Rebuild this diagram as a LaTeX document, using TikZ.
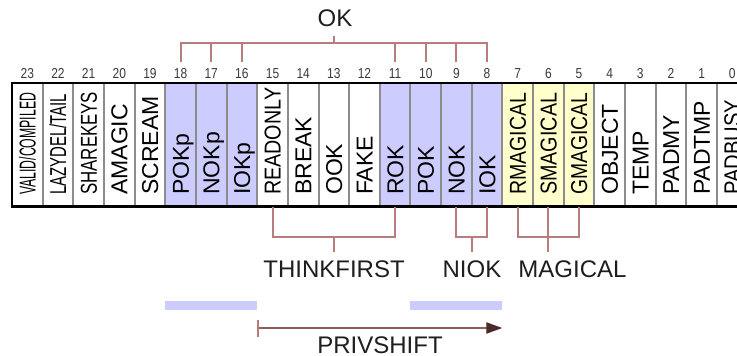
\documentclass[tikz,border=0pt]{standalone}
\usepackage{fontspec}
\setmainfont{Liberation Sans}
\usepackage{graphicx}
\usetikzlibrary{arrows.meta,calc}
\definecolor{bluecell}{HTML}{CCCCFF}
\definecolor{yellowcell}{HTML}{FFFFCC}
\definecolor{brk}{HTML}{B87C7C}
\definecolor{arr}{HTML}{8E5C5C}
\definecolor{arrhead}{HTML}{4A2A2A}
\definecolor{divider}{HTML}{8C8C8C}
\definecolor{txt}{HTML}{1E1E1E}
\definecolor{numgray}{HTML}{3A3A3A}
\newlength\lblw
\newcommand\fitlbl[2]{\settowidth\lblw{#2}\ifdim\lblw>#1pt\relax\resizebox{#1pt}{\height}{#2}\else #2\fi}
\tikzset{
  cellbox/.style={draw=divider,line width=2pt,minimum width=30.65pt,minimum height=124pt,inner sep=0pt,outer sep=0pt},
  celllbl/.style={rotate=90,anchor=base west,inner sep=0pt,text=black,font=\fontsize{23}{23}\selectfont},
  numlbl/.style={anchor=base,inner sep=0pt,text=numgray,font=\fontsize{12}{12}\selectfont},
  grouplbl/.style={anchor=base,inner sep=0pt,text=txt,font=\fontsize{24}{24}\selectfont},
  brkline/.style={draw=brk,line width=2pt},
  bar/.style={fill=bluecell,minimum width=91.95pt,minimum height=9pt,inner sep=0pt,outer sep=0pt},
}
\newcommand\bitcell[5]{%
  \pgfmathsetmacro\cx{12+(#1+0.5)*30.65}%
  \node[cellbox,fill=#3] (c#2) at (\cx,145) {};
  \node[numlbl] (n#2) at (\cx,78) {\scalebox{1}[1.2]{#2}};
  \node[celllbl] (l#2) at (\cx+8.2,195) {\fitlbl{#4}{#5}};
  \coordinate (t#2) at (\cx,62);
  \coordinate (b#2) at (\cx,207);
}
\newcommand\myslash{/}
\begin{document}
\begin{tikzpicture}[x=1pt,y=-1pt]
\useasboundingbox (0,0) rectangle (737,356);
\clip (0,0) rectangle (737,356);
\fill[white] (0,0) rectangle (737,356);
\bitcell{0}{23}{white}{102}{VALID\myslash COMPILED}
\bitcell{1}{22}{white}{101}{LAZYDEL\myslash TAIL}
\bitcell{2}{21}{white}{103}{SHAREKEYS}
\bitcell{3}{20}{white}{200}{AMAGIC}
\bitcell{4}{19}{white}{200}{SCREAM}
\bitcell{5}{18}{bluecell}{200}{POKp}
\bitcell{6}{17}{bluecell}{200}{NOKp}
\bitcell{7}{16}{bluecell}{200}{IOKp}
\bitcell{8}{15}{white}{107}{READONLY}
\bitcell{9}{14}{white}{200}{BREAK}
\bitcell{10}{13}{white}{200}{OOK}
\bitcell{11}{12}{white}{200}{FAKE}
\bitcell{12}{11}{bluecell}{200}{ROK}
\bitcell{13}{10}{bluecell}{200}{POK}
\bitcell{14}{9}{bluecell}{200}{NOK}
\bitcell{15}{8}{bluecell}{200}{IOK}
\bitcell{16}{7}{yellowcell}{102}{RMAGICAL}
\bitcell{17}{6}{yellowcell}{102}{SMAGICAL}
\bitcell{18}{5}{yellowcell}{102}{GMAGICAL}
\bitcell{19}{4}{white}{200}{OBJECT}
\bitcell{20}{3}{white}{200}{TEMP}
\bitcell{21}{2}{white}{200}{PADMY}
\bitcell{22}{1}{white}{200}{PADTMP}
\bitcell{23}{0}{white}{95}{PADBUSY}
% outer border
\draw[line width=2.2pt,black] (12,83) rectangle (747.6,206.5);
% OK bracket
\coordinate (okbar) at (0,43);
\coordinate (okmid) at ($(t18)!0.5!(t8)$);
\node[grouplbl] (ok) at (335,27) {OK};
\draw[brkline] (t18) |- (t8 |- okbar) -- (t8);
\foreach \b in {17,16,11,10,9} \draw[brkline] (t\b) -- (t\b |- okbar);
\draw[brkline] (okmid |- okbar) -- ++(0,-7);
% bottom brackets
\coordinate (lowbar) at (0,237);
\coordinate (tfmid) at ($(b15)!0.5!(b11)$);
\coordinate (niomid) at ($(b9)!0.5!(b8)$);
\draw[brkline] (b15) |- (b11 |- lowbar) -- (b11);
\draw[brkline] (tfmid |- lowbar) -- ++(0,15);
\node[grouplbl] (thinkfirst) at (334,277) {THINKFIRST};
\draw[brkline] (b9) |- (b8 |- lowbar) -- (b8);
\draw[brkline] (niomid |- lowbar) -- ++(0,15);
\node[grouplbl] (niok) at (472,277) {NIOK};
\draw[brkline] (b7) |- (b5 |- lowbar) -- (b5);
\draw[brkline] (b6) -- (b6 |- lowbar) -- ++(0,15);
\node[grouplbl] (magical) at (572.5,277) {MAGICAL};
% privshift
\node[bar] (barL) at (211.2,305.5) {};
\node[bar] (barR) at (456.4,305.5) {};
\coordinate (psy) at (0,328);
\draw[draw=arr,line width=2pt,{Bar[width=17pt,line width=2pt,color=brk]}-{Triangle[length=16pt,width=11pt,color=arrhead]}] (barL.east |- psy) -- (barR.east |- psy);
\node[grouplbl] (privshift) at (380,353) {PRIVSHIFT};
\end{tikzpicture}
\end{document}
